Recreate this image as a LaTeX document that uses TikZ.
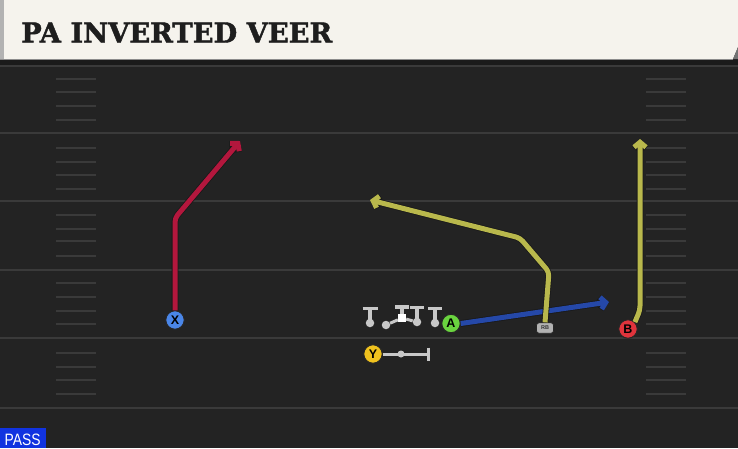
\documentclass[tikz,border=0pt]{standalone}
\usepackage{fontspec}
\setmainfont{Liberation Sans}
\newfontfamily\titlefont{DejaVu Serif}[BoldFeatures={FakeBold=1.6}]
\usetikzlibrary{arrows.meta}
\definecolor{fieldbg}{HTML}{232323}
\definecolor{stripbg}{HTML}{1B1B1B}
\definecolor{yardline}{HTML}{3A3A3A}
\definecolor{titlebg}{HTML}{F5F3ED}
\definecolor{titletext}{HTML}{1E1E1E}
\definecolor{passblue}{HTML}{1133E0}
\definecolor{rred}{HTML}{B3173D}
\definecolor{rblue}{HTML}{2548A8}
\definecolor{ryellow}{HTML}{B9B84C}
\definecolor{pblue}{HTML}{4A86E8}
\definecolor{pgreen}{HTML}{6AD43F}
\definecolor{pred}{HTML}{E0343C}
\definecolor{pyellow}{HTML}{F0C21E}
\definecolor{lgray}{HTML}{C8C8C8}
\tikzset{
  yard/.style={draw=yardline, line width=2pt},
  hashm/.style={draw=yardline, line width=2pt},
  route/.style={draw=#1, line width=5pt, line join=round, rounded corners=4pt,
    -{Straight Barb[length=5pt,width=12pt]},
    preaction={draw=black!90, line width=6.6pt, -{Straight Barb[length=5pt,width=12pt]}}},
  player/.style={circle, draw=black!85, line width=1pt, minimum size=18.5pt, inner sep=0pt,
    fill=#1, text=black, font=\bfseries\fontsize{12.5}{12.5}\selectfont},
  lman/.style={circle, fill=lgray, minimum size=8.5pt, inner sep=0pt},
  tee/.style={draw=lgray, line width=3.6pt},
  blockln/.style={draw=lgray, line width=3pt},
  rbbox/.style={draw=black!85, line width=0.8pt, fill=black!30, rounded corners=2.5pt,
    minimum width=17pt, minimum height=10.5pt, inner sep=0pt, text=black!80,
    font=\bfseries\fontsize{5.5}{5.5}\selectfont},
}
\begin{document}
\begin{tikzpicture}[x=1pt,y=-1pt]
\useasboundingbox (0,0) rectangle (738,448);
% field
\fill[fieldbg] (0,0) rectangle (738,448);
\fill[stripbg] (0,59) rectangle (738,65);
\foreach \yy in {66,133,201,270,338,408} \draw[yard] (0,\yy) -- (738,\yy);
\foreach \yy in {79,92,106,120,148,162,175,189,215,229,241,256,283,297,311,324,353,367,380,394} {
  \draw[hashm] (56,\yy) -- (96,\yy);
  \draw[hashm] (646,\yy) -- (686,\yy);
}
% title bar
\fill[titlebg] (0,0) -- (738,0) -- (738,47) -- (733,59) -- (0,59) -- cycle;
\fill[black!55] (738,47) -- (738,59) -- (733,59) -- cycle;
\draw[black!45, line width=1pt] (0,59.5) -- (733,59.5);
\fill[black!30] (0,0) rectangle (4,59);
\node[anchor=base west, inner sep=0pt, text=titletext] (title) at (21,42.5)
  {\resizebox{311pt}{20pt}{\titlefont\bfseries PA INVERTED VEER}};
% PASS tag
\fill[passblue] (0,428) rectangle (46,448);
\node[anchor=base west, inner sep=0pt, text=white] (pass) at (4.5,445)
  {\resizebox{36pt}{11.5pt}{PASS}};
% players
\node[player=pblue] (X) at (175,320) {X};
\node[player=pgreen] (A) at (451,323.5) {A};
\node[player=pred] (B) at (628,329) {B};
\node[player=pyellow] (Y) at (373,354) {Y};
\node[rbbox] (RB) at (545,328) {RB};
% route waypoints
\coordinate (x1) at (175,218);
\coordinate (xEnd) at (240,141);
\coordinate (aEnd) at (609,302);
\coordinate (rb1) at (549,272);
\coordinate (rb2) at (520,238);
\coordinate (rbEnd) at (370,200);
\coordinate (b1) at (640,310);
\coordinate (bEnd) at (640,139);
% routes
\draw[route=rred] (X.north) -- (x1) -- (xEnd);
\draw[route=rblue] (A.east) -- (aEnd);
\draw[route=ryellow] (RB.north) -- (rb1) -- (rb2) -- (rbEnd);
\draw[route=ryellow] (B.north east) -- (b1) -- (bEnd);
% offensive line
\node[lman] (LT) at (370,323) {};
\node[lman] (LG) at (386,325) {};
\node[fill=white, minimum size=8pt, inner sep=0pt] (C) at (402,318) {};
\node[lman] (RG) at (417,322) {};
\node[lman] (RT) at (435,323) {};
\draw[blockln] (LG) -- (C) -- (RG);
\draw[tee] (LT.center) -- (370,308.5) (362.5,308.5) -- (377.5,308.5);
\draw[tee] (C.north) -- (402,307) (395,307) -- (409,307);
\draw[tee] (RG.center) -- (417,307.5) (410,307.5) -- (424,307.5);
\draw[tee] (RT.center) -- (435,308.5) (428,308.5) -- (442,308.5);
% Y block
\coordinate (yEnd) at (428,354);
\draw[blockln] (Y.east) -- (yEnd);
\draw[blockln] (428,347.5) -- (428,360.5);
\node[lman, minimum size=7pt] (ydot) at (401,354) {};
\end{tikzpicture}
\end{document}
